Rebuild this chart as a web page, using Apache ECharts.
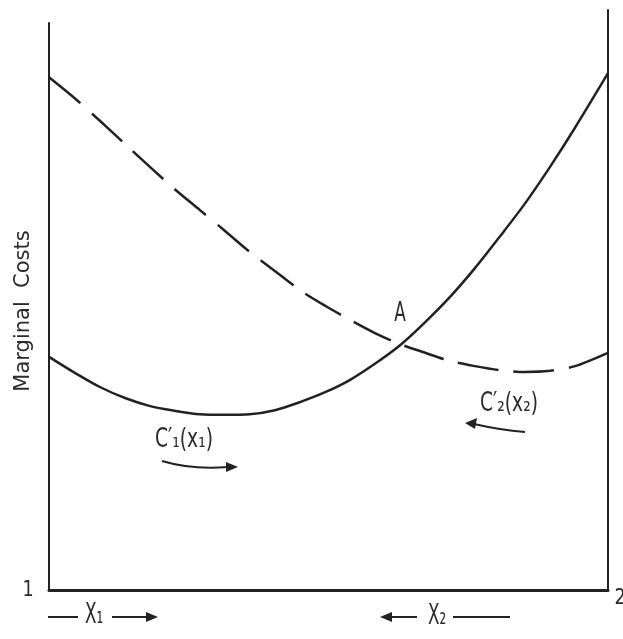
<!DOCTYPE html>
<html>
<head>
<meta charset="utf-8">
<script src="https://cdn.jsdelivr.net/npm/echarts@6/dist/echarts.min.js"></script>
<style>
  html, body { margin: 0; padding: 0; background: #fff; }
  #main { width: 623px; height: 639px; }
</style>
</head>
<body>
<div id="main"></div>
<script>
// x runs 0..100 across the box (x1 grows rightward, x2 grows leftward)
var xPos = [0, 4.7, 9.1, 13.6, 18.1, 22.5, 27.0, 31.5, 35.9, 40.4, 44.9, 49.4,
            53.8, 58.3, 62.8, 67.3, 71.7, 76.2, 80.7, 85.2, 89.6, 94.1, 100];
var ySolid = [40.2, 37.4, 35.0, 33.1, 31.7, 30.9, 30.3, 30.2, 30.3, 31.0, 32.4, 34.1,
              36.2, 39.0, 42.2, 46.2, 50.5, 55.5, 61.0, 66.7, 72.9, 79.7, 89.1];
var yDashed = [88.4, 84.7, 80.9, 76.9, 72.9, 69.1, 65.5, 61.9, 58.3, 55.0, 51.7, 49.0,
               46.6, 44.3, 42.4, 40.9, 39.5, 38.6, 37.9, 37.6, 37.8, 38.6, 40.9];
var leftAxisTop = 97.9;

var ink = '#222';

function pairs(xs, ys) {
    return xs.map(function (x, i) { return [x, ys[i]]; });
}

function label(text, x, y, size, sx, extra) {
    var el = {
        type: 'text', x: x, y: y, scaleX: sx || 1,
        style: {
            text: text, x: 0, y: 0, fill: '#2a2a2a',
            font: size + 'px "DejaVu Sans"',
            textAlign: 'center', textVerticalAlign: 'middle'
        }
    };
    if (extra) Object.assign(el, extra);
    return el;
}

function seg(x1, y1, x2, y2) {
    return { type: 'line', shape: { x1: x1, y1: y1, x2: x2, y2: y2 },
             style: { stroke: ink, lineWidth: 2 } };
}

function head(pts) {
    return { type: 'polygon', shape: { points: pts }, style: { fill: ink } };
}

var myChart = echarts.init(document.getElementById('main'));

myChart.setOption({
    animation: false,
    backgroundColor: '#fff',
    grid: { left: 49, right: 15, top: 10, bottom: 49 },
    xAxis: {
        type: 'value', min: 0, max: 100,
        axisLine: { show: true, lineStyle: { color: ink, width: 3 } },
        axisTick: { show: false }, axisLabel: { show: false }, splitLine: { show: false }
    },
    yAxis: [{
        type: 'value', min: 0, max: 100, position: 'left',
        axisLine: { show: false }, axisTick: { show: false },
        axisLabel: { show: false }, splitLine: { show: false }
    }, {
        type: 'value', min: 0, max: 100, position: 'right',
        axisLine: { show: true, lineStyle: { color: ink, width: 2 } },
        axisTick: { show: false }, axisLabel: { show: false }, splitLine: { show: false }
    }],
    series: [{
        name: "C'1(x1)",
        type: 'line',
        smooth: 0.3,
        symbol: 'none',
        data: pairs(xPos, ySolid),
        lineStyle: { color: ink, width: 2.5 },
        markLine: {
            silent: true,
            symbol: ['none', 'none'],
            label: { show: false },
            lineStyle: { color: ink, width: 2, type: 'solid' },
            data: [[{ coord: [0, 0] }, { coord: [0, leftAxisTop] }]]
        }
    }, {
        name: "C'2(x2)",
        type: 'line',
        smooth: 0.3,
        symbol: 'none',
        data: pairs(xPos, yDashed),
        lineStyle: { color: ink, width: 2.5, type: [41, 15] }
    }],
    graphic: [
        label('Marginal  Costs', 24, 311, 21, 1, { rotation: Math.PI / 2 }),
        label('1', 28, 590, 22, 0.8),
        label('2', 620, 598, 22, 0.8),
        label('A', 400, 314, 26, 0.65),
        label('C\u2032\u2081(x\u2081)', 184, 440, 26, 0.72),
        label('C\u2032\u2082(x\u2082)', 509, 404, 26, 0.72),
        label('X\u2081', 94, 616, 28, 0.6),
        label('X\u2082', 437, 617, 28, 0.6),
        // x1 direction arrow
        seg(48, 617, 78, 617),
        seg(112, 617, 150, 617),
        head([[158, 617], [146, 612], [146, 622]]),
        // x2 direction arrow
        seg(388, 617, 417, 617),
        seg(453, 617, 510, 617),
        head([[380, 617], [392, 612], [392, 622]]),
        // arrow under C'1
        { type: 'bezierCurve',
          shape: { x1: 162, y1: 461, cpx1: 192, cpy1: 470, x2: 228, y2: 467 },
          style: { stroke: ink, lineWidth: 2, fill: null } },
        head([[238, 467], [226, 462], [226, 472]]),
        // arrow under C'2
        { type: 'bezierCurve',
          shape: { x1: 525, y1: 432, cpx1: 500, cpy1: 430, x2: 474, y2: 424 },
          style: { stroke: ink, lineWidth: 2, fill: null } },
        head([[465, 423], [477, 418], [475, 429]])
    ]
});
</script>
</body>
</html>
